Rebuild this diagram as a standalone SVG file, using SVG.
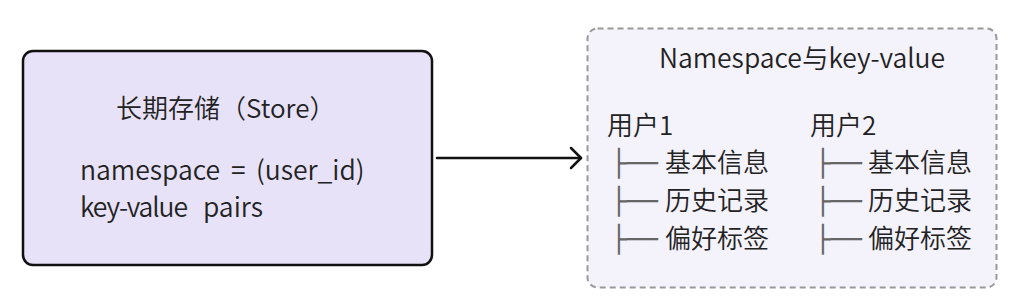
<svg xmlns="http://www.w3.org/2000/svg" width="1022" height="301" viewBox="0 0 1022 301">
<style>
.t{font-family:"Noto Sans CJK SC","Noto Sans",sans-serif;fill:#222;font-weight:350;}
.box{font-family:"DejaVu Sans",sans-serif;fill:#666;font-weight:400;}
.store{fill:#e7e2f8;stroke:#111;stroke-width:2.5;}
.ns{fill:#f4f2fb;stroke:#999;stroke-width:2;stroke-dasharray:6 4;}
.conn{fill:none;stroke:#111;stroke-width:2.5;stroke-linecap:round;stroke-linejoin:round;}
</style>
<rect width="1022" height="301" fill="#ffffff"/>
<g id="store">
<rect class="store" x="23" y="51" width="409" height="214" rx="10"/>
<text class="t" x="116" y="118" font-size="26">长期存储（Store）</text>
<text class="t" y="180" font-size="26.5"><tspan x="80">namespace</tspan><tspan x="231">=</tspan><tspan x="256">(user_id)</tspan></text>
<text class="t" y="217" font-size="26.5"><tspan x="80" textLength="108">key-value</tspan><tspan x="203">pairs</tspan></text>
</g>
<g id="namespace">
<rect class="ns" x="587.5" y="28.5" width="409" height="259" rx="10"/>
<text class="t" x="802" y="68" font-size="26.5" text-anchor="middle">Namespace与key-value</text>
<text class="t" x="607" y="135" font-size="26">用户1</text>
<text class="t" x="810" y="135" font-size="26">用户2</text>
<text class="t" y="172" font-size="26"><tspan class="box" x="611">├──</tspan><tspan x="665">基本信息</tspan></text>
<text class="t" y="210" font-size="26"><tspan class="box" x="611">├──</tspan><tspan x="665">历史记录</tspan></text>
<text class="t" y="248" font-size="26"><tspan class="box" x="611">├──</tspan><tspan x="665">偏好标签</tspan></text>
<text class="t" y="172" font-size="26"><tspan class="box" x="815">├──</tspan><tspan x="868">基本信息</tspan></text>
<text class="t" y="210" font-size="26"><tspan class="box" x="815">├──</tspan><tspan x="868">历史记录</tspan></text>
<text class="t" y="248" font-size="26"><tspan class="box" x="815">├──</tspan><tspan x="868">偏好标签</tspan></text>
</g>
<g id="connectors">
<path class="conn" d="M437 158 H581"/>
<path class="conn" d="M571 148 L581 158 L571 168"/>
</g>
</svg>
